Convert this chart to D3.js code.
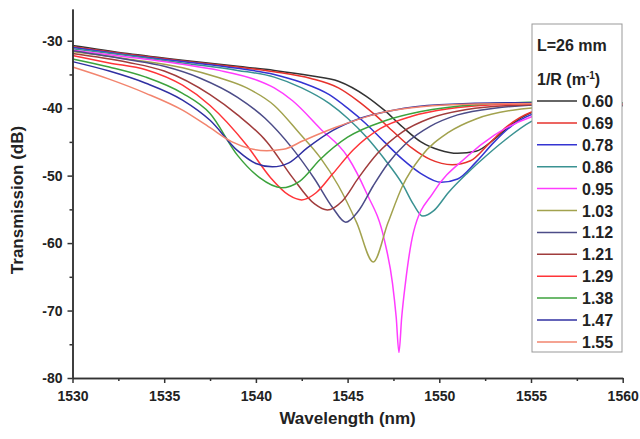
<!DOCTYPE html>
<html>
<head>
<meta charset="utf-8">
<script src="https://cdn.jsdelivr.net/npm/d3@7"></script>
<style>
  body { margin: 0; background: #fff; }
  text { font-family: "Liberation Sans", Arial, sans-serif; font-weight: bold; fill: #222; }
</style>
</head>
<body>
<div id="chart"></div>
<script>
// values: [wavelength nm, transmission dB]
const r060 = [[1530,-30.7],[1533,-31.9],[1536,-32.9],[1539,-33.8],[1541,-34.4],[1543,-35.2],[1544.5,-36.0],[1546,-38.2],[1547,-40.3],[1548,-42.8],[1549,-45.0],[1550,-46.2],[1551,-46.7],[1552,-46.4],[1553,-44.6],[1554,-42.3],[1555,-40.7],[1556.5,-39.9],[1558,-39.6],[1560,-39.6]];
const r069 = [[1530,-30.9],[1533,-32.0],[1536,-33.0],[1539,-33.9],[1541,-34.6],[1543,-35.6],[1544.5,-37.0],[1545.5,-38.8],[1546.5,-41.0],[1547.5,-43.5],[1548.5,-45.9],[1549.5,-47.6],[1550.7,-48.4],[1551.7,-47.8],[1552.7,-45.3],[1553.7,-42.7],[1555,-40.6],[1556.5,-39.8],[1558,-39.5],[1560,-39.5]];
const r078 = [[1530,-31.0],[1533,-32.1],[1536,-33.1],[1539,-34.1],[1541,-35.0],[1542.5,-36.2],[1544,-38.0],[1545,-40.0],[1546,-42.3],[1547,-45.0],[1548,-47.6],[1549,-49.7],[1550.1,-51.0],[1551,-50.5],[1552,-48.0],[1553,-45.0],[1554,-42.5],[1555.5,-40.5],[1557.5,-39.7],[1560,-39.5]];
const r086 = [[1530,-31.2],[1533,-32.2],[1536,-33.3],[1539,-34.4],[1541,-35.4],[1542.5,-37.0],[1544,-39.3],[1545,-41.5],[1546,-44.2],[1547,-47.5],[1548,-51.3],[1548.6,-54.3],[1549.1,-56.0],[1549.7,-55.2],[1550.5,-52.5],[1551.5,-49.7],[1552.5,-47.2],[1553.5,-44.9],[1555,-42.0],[1557,-40.3],[1560,-39.6]];
const r095 = [[1530,-31.4],[1533,-32.4],[1536,-33.5],[1538,-34.4],[1540,-35.8],[1541,-37.0],[1542,-38.9],[1543.5,-43.0],[1545,-47.2],[1546,-52.4],[1547,-59.5],[1547.45,-66.0],[1547.65,-71.0],[1547.8,-76.2],[1547.95,-71.0],[1548.15,-66.0],[1548.6,-58.3],[1549.7,-52.4],[1551.5,-47.2],[1553,-44.0],[1555,-41.3],[1557,-40.1],[1560,-39.5]];
const r103 = [[1530,-31.6],[1533,-32.7],[1536,-34.0],[1538,-35.5],[1539.5,-37.0],[1541,-39.6],[1542.4,-43.8],[1543.5,-47.3],[1544.5,-51.5],[1545.5,-57.0],[1546.4,-62.8],[1547.2,-57.0],[1548,-51.5],[1549,-47.2],[1550.5,-43.6],[1552,-41.6],[1554,-40.3],[1557,-39.7],[1560,-39.5]];
const r112 = [[1530,-31.5],[1533,-32.8],[1535,-33.8],[1537,-35.6],[1539,-38.4],[1540.5,-41.5],[1542,-46.0],[1543.2,-50.5],[1544.2,-54.8],[1544.9,-56.9],[1545.6,-55.2],[1546.4,-51.5],[1547.2,-48.2],[1548.2,-45.2],[1549.5,-42.7],[1551,-41.0],[1553,-40.0],[1556,-39.5],[1560,-39.6]];
const r121 = [[1530,-31.9],[1533,-33.2],[1535,-34.5],[1537.5,-38.0],[1539,-41.0],[1540.6,-45.0],[1542,-50.3],[1543.2,-54.2],[1543.9,-55.1],[1544.7,-53.8],[1545.6,-50.3],[1546.6,-46.8],[1548,-43.5],[1549.5,-41.5],[1551.5,-40.2],[1554,-39.6],[1557,-39.4],[1560,-39.5]];
const r129 = [[1530,-32.2],[1532,-33.3],[1534,-34.3],[1536,-36.6],[1537.5,-39.6],[1539.5,-45.5],[1540.8,-50.3],[1541.8,-52.9],[1542.5,-53.6],[1543.3,-52.5],[1544.2,-49.7],[1545.3,-46.2],[1546.8,-43.0],[1548.5,-41.2],[1550.5,-40.1],[1553,-39.5],[1556,-39.3],[1560,-39.4]];
const r138 = [[1530,-32.7],[1532,-33.9],[1534,-35.4],[1536,-37.8],[1537.5,-40.8],[1539,-47.0],[1540.2,-50.3],[1541.4,-51.8],[1542.4,-50.8],[1543.5,-47.6],[1545,-44.3],[1547,-41.9],[1549,-40.5],[1552,-39.5],[1556,-39.1],[1560,-39.2]];
const r147 = [[1530,-33.1],[1532,-34.5],[1534,-36.3],[1536,-38.8],[1537.5,-41.8],[1539,-46.3],[1540,-48.2],[1540.9,-48.7],[1541.8,-48.1],[1542.8,-45.9],[1544.2,-43.3],[1545.7,-41.5],[1547.5,-40.3],[1550,-39.5],[1554,-39.2],[1560,-39.3]];
const r155 = [[1530,-33.9],[1532,-35.7],[1534,-37.8],[1536,-40.3],[1537.5,-42.9],[1538.7,-45.0],[1539.7,-46.0],[1540.6,-46.3],[1541.5,-46.1],[1542.6,-44.8],[1544.4,-42.8],[1546.8,-40.7],[1549,-39.8],[1552,-39.4],[1556,-39.3],[1560,-39.4]];

const curvatures = ["0.60","0.69","0.78","0.86","0.95","1.03","1.12","1.21","1.29","1.38","1.47","1.55"];
const seriesList = [r060, r069, r078, r086, r095, r103, r112, r121, r129, r138, r147, r155];
const colours = ["#333333","#e6322c","#3434d2","#3a9292","#ff3cff","#a2a24e","#4c4c88","#a03c3c","#ff3438","#3ca23c","#3030a2","#f2846e"];

const xMajor = [1530, 1535, 1540, 1545, 1550, 1555, 1560];
const xMinor = [1532.5, 1537.5, 1542.5, 1547.5, 1552.5, 1557.5];
const yMajor = [-80, -70, -60, -50, -40, -30];
const yMinor = [-75, -65, -55, -45, -35];

const margin = { top: 9, right: 17.3, bottom: 61, left: 72.5 },
  width = 640 - margin.left - margin.right,
  height = 439 - margin.top - margin.bottom;

const svg = d3.select("#chart")
  .append("svg")
    .attr("width", 640)
    .attr("height", 439)
  .append("g")
    .attr("transform", "translate(" + margin.left + "," + margin.top + ")");

const x = d3.scaleLinear().domain([1530, 1560]).range([0, width]);
const y = d3.scaleLinear().domain([-80, -25.3]).range([height, 0]);

// curves
const line = d3.line()
  .x(d => x(d[0]))
  .y(d => y(d[1]))
  .curve(d3.curveMonotoneX);

svg.selectAll(".curve")
  .data(seriesList)
  .enter().append("path")
    .attr("class", "curve")
    .attr("d", line)
    .attr("fill", "none")
    .attr("stroke", (d, i) => colours[i])
    .attr("stroke-width", 1.5);

// axes (plain hyphen minus like the original)
const plain = d => String(d);

const xAxis = svg.append("g")
  .attr("transform", `translate(0, ${height})`)
  .call(d3.axisBottom(x).tickValues(xMajor).tickSize(5).tickSizeOuter(0).tickFormat(plain));
svg.append("g")
  .attr("transform", `translate(0, ${height})`)
  .call(d3.axisBottom(x).tickValues(xMinor).tickSize(3).tickSizeOuter(0).tickFormat(""));

const yAxis = svg.append("g")
  .call(d3.axisLeft(y).tickValues(yMajor).tickSize(5).tickSizeOuter(0).tickFormat(plain));
svg.append("g")
  .call(d3.axisLeft(y).tickValues(yMinor).tickSize(3).tickSizeOuter(0).tickFormat(""));

svg.selectAll(".domain, .tick line")
  .attr("stroke", "#333")
  .attr("stroke-width", 1.5);

xAxis.selectAll("text")
  .attr("dy", null)
  .attr("y", 23)
  .style("font-size", "14px");
yAxis.selectAll("text")
  .attr("x", -10)
  .style("font-size", "14px");
svg.selectAll(".tick text").attr("fill", "#222").style("font-family", "\"Liberation Sans\", Arial, sans-serif").style("font-weight", "bold");

// axis titles
svg.append("text")
  .attr("x", x(1545))
  .attr("y", height + 46)
  .attr("text-anchor", "middle")
  .style("font-size", "17px")
  .text("Wavelength (nm)");

svg.append("text")
  .attr("transform", `translate(${23 - margin.left}, ${200 - margin.top}) rotate(-90)`)
  .attr("text-anchor", "middle")
  .style("font-size", "17px")
  .text("Transmission (dB)");

// legend
const lg = svg.append("g")
  .attr("transform", `translate(${532 - margin.left}, ${24 - margin.top})`);

lg.append("rect")
  .attr("width", 90)
  .attr("height", 328)
  .attr("fill", "#fff")
  .attr("stroke", "#999")
  .attr("stroke-width", 1);

lg.append("text")
  .attr("x", 5)
  .attr("y", 27)
  .style("font-size", "16px")
  .text("L=26 mm");

const rTitle = lg.append("text")
  .attr("x", 5)
  .attr("y", 61)
  .style("font-size", "16px");
rTitle.append("tspan").text("1/R (m");
rTitle.append("tspan").attr("dy", -6).style("font-size", "10px").text("-1");
rTitle.append("tspan").attr("dy", 6).text(")");

const entries = lg.selectAll(".entry")
  .data(curvatures)
  .enter().append("g")
  .attr("class", "entry")
  .attr("transform", (d, i) => "translate(0," + (77 + i * 21.9) + ")");

entries.append("line")
  .attr("x1", 5)
  .attr("x2", 45)
  .attr("stroke", (d, i) => colours[i])
  .attr("stroke-width", 1.5);

entries.append("text")
  .attr("x", 50)
  .attr("y", 6)
  .style("font-size", "16px")
  .text(d => d);
</script>
</body>
</html>
